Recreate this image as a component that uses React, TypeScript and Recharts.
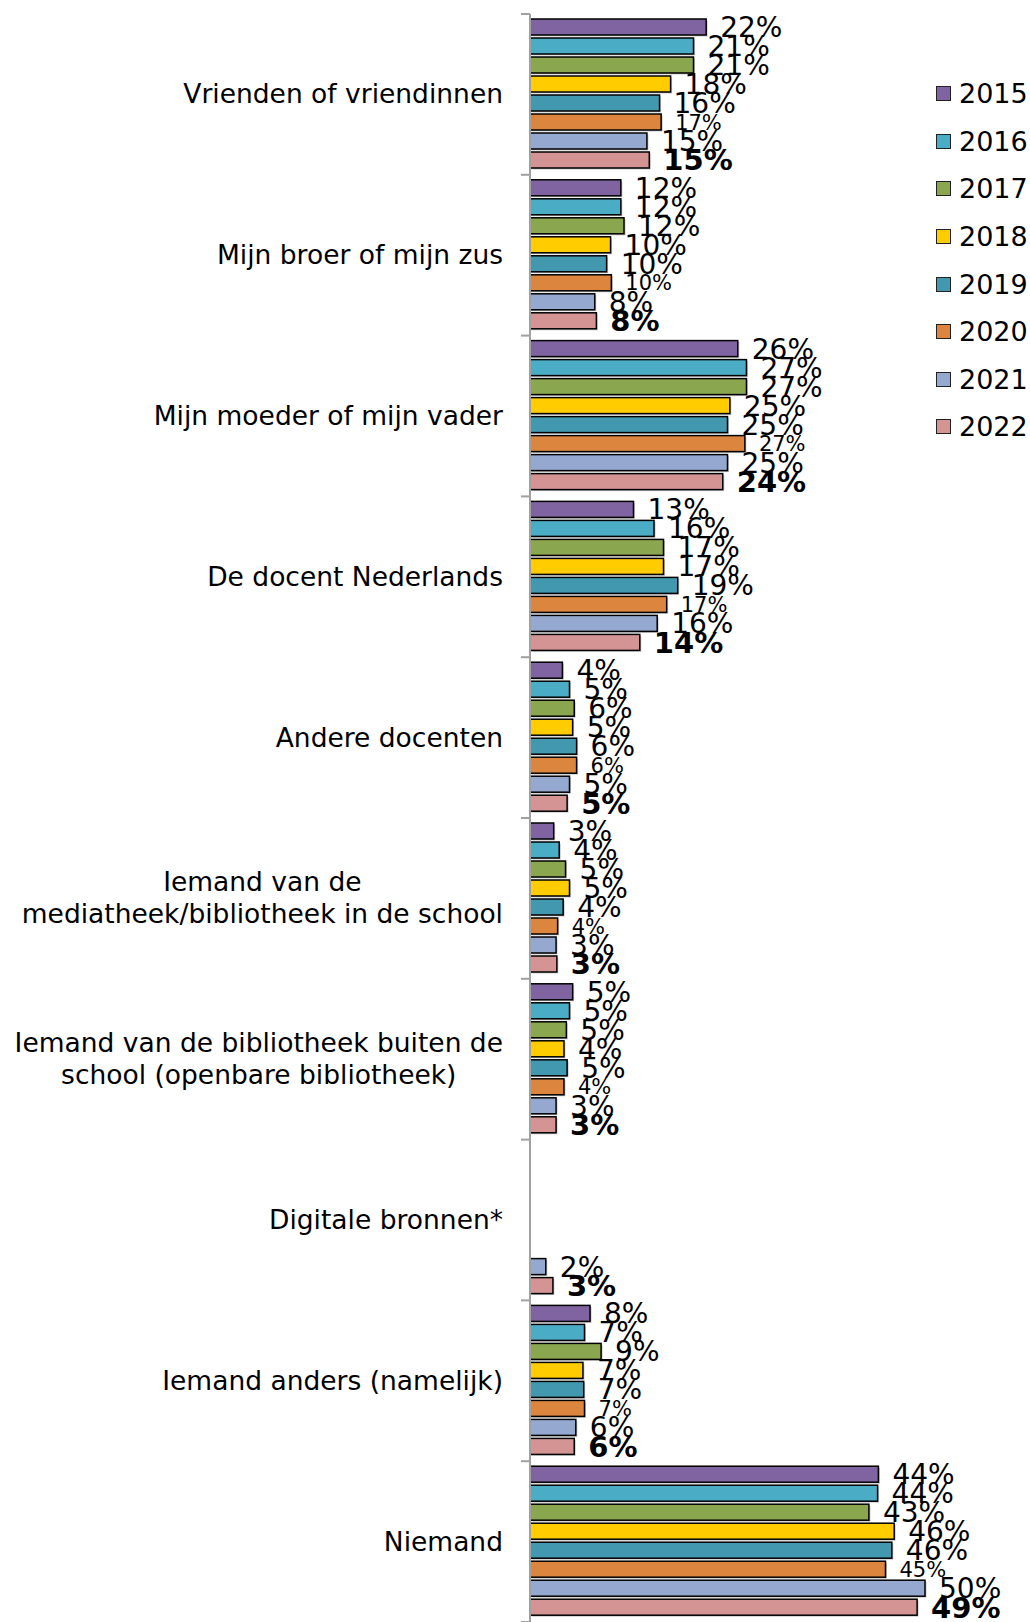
import { BarChart, Bar, XAxis, YAxis, LabelList } from 'recharts'

const categories = [
  'Vrienden of vriendinnen',
  'Mijn broer of mijn zus',
  'Mijn moeder of mijn vader',
  'De docent Nederlands',
  'Andere docenten',
  'Iemand van de\nmediatheek/bibliotheek in de school',
  'Iemand van de bibliotheek buiten de\nschool (openbare bibliotheek)',
  'Digitale bronnen*',
  'Iemand anders (namelijk)',
  'Niemand',
]

const years = ['2015', '2016', '2017', '2018', '2019', '2020', '2021', '2022']
const colors = ['#8064A2', '#4BACC6', '#8AA64E', '#FFCC00', '#4198AF', '#DC853E', '#95A9D0', '#D49494']

// percentages per year, one value per category (null = not asked that year)
const v2015 = [22.3, 11.5, 26.3, 13.1, 4.1, 3.0, 5.4, null, 7.6, 44.1]
const v2016 = [20.7, 11.5, 27.4, 15.7, 5.0, 3.7, 5.0, null, 6.9, 44.0]
const v2017 = [20.7, 11.9, 27.4, 16.9, 5.6, 4.5, 4.6, null, 9.0, 42.9]
const v2018 = [17.8, 10.2, 25.3, 16.9, 5.4, 5.0, 4.3, null, 6.7, 46.1]
const v2019 = [16.4, 9.7, 25.0, 18.7, 5.9, 4.2, 4.7, null, 6.8, 45.8]
const v2020 = [16.6, 10.3, 27.2, 17.3, 5.9, 3.5, 4.3, null, 6.9, 45.0]
const v2021 = [14.8, 8.2, 25.0, 16.1, 5.0, 3.3, 3.3, 2.0, 5.8, 50.0]
const v2022 = [15.1, 8.4, 24.4, 13.9, 4.7, 3.4, 3.3, 2.9, 5.6, 49.0]

const seriesValues = [v2015, v2016, v2017, v2018, v2019, v2020, v2021, v2022]

const data = categories.map((name, i) => {
  const row: Record<string, string | number | null> = { name }
  years.forEach((y, s) => {
    row['y' + y] = seriesValues[s][i]
  })
  return row
})

const FONT = '"DejaVu Sans", Verdana, sans-serif'
const CHART_W = 1030
const CHART_H = 1622
const MARGIN_TOP = 14
const AXIS_W = 530
const PLOT_H = CHART_H - MARGIN_TOP
const BAND = PLOT_H / categories.length
const CAT_SIZE = 26.5

let ctx: CanvasRenderingContext2D | null = null
function textWidth(s: string) {
  if (!ctx) ctx = document.createElement('canvas').getContext('2d')
  if (!ctx) return s.length * 15
  ctx.font = `${CAT_SIZE}px ${FONT}`
  return ctx.measureText(s).width
}

function CategoryTick(props: any) {
  const { x, y, payload, index } = props
  const lines = String(payload.value).split('\n')
  const lineH = 32
  const maxW = Math.max(...lines.map(textWidth))
  const multi = lines.length > 1
  const tx = multi ? x - 27 - maxW / 2 : x - 27
  const startY = y - ((lines.length - 1) * lineH) / 2
  return (
    <g>
      <line x1={x - 9} x2={x} y1={y - BAND / 2} y2={y - BAND / 2} stroke="#A0A0A0" strokeWidth={2} />
      {index === categories.length - 1 && (
        <line x1={x - 9} x2={x} y1={y + BAND / 2} y2={y + BAND / 2} stroke="#A0A0A0" strokeWidth={2} />
      )}
      <text
        x={tx}
        y={startY}
        textAnchor={multi ? 'middle' : 'end'}
        fontFamily={FONT}
        fontSize={CAT_SIZE}
        fill="#000"
      >
        {lines.map((l, i) => (
          <tspan key={i} x={tx} dy={i === 0 ? 9 : lineH}>
            {l}
          </tspan>
        ))}
      </text>
    </g>
  )
}

function makeLabel(year: string) {
  return function ValueLabel(props: any) {
    const vb = props.viewBox ?? props
    const x = vb.x ?? props.x
    const y = vb.y ?? props.y
    const width = vb.width ?? props.width
    const height = vb.height ?? props.height
    const value = props.value
    if (value === null || value === undefined) return null
    const bold = year === '2022'
    const size = bold ? 29 : year === '2020' ? 21 : 28
    return (
      <text
        x={x + width + 14}
        y={y + height / 2 + size * 0.36}
        fontFamily={FONT}
        fontSize={size}
        fontWeight={bold ? 'bold' : 'normal'}
        fill="#000"
      >
        {Math.round(value)}%
      </text>
    )
  }
}

function BarShape(props: any) {
  const { x, y, width, height, fill, value } = props
  if (value === null || value === undefined || width <= 0) return null
  return (
    <g>
      <rect x={x + 1.5} y={y + 1.5} width={width} height={height} fill="#C8C8C8" />
      <rect x={x} y={y} width={width} height={height} fill={fill} stroke="#000" strokeWidth={1.5} />
    </g>
  )
}

export default function App() {
  return (
    <div style={{ position: 'fixed', top: 0, left: 0, width: CHART_W, height: CHART_H, background: '#fff' }}>
      <BarChart
        width={CHART_W}
        height={CHART_H}
        data={data}
        layout="vertical"
        margin={{ top: MARGIN_TOP, right: 26, bottom: 0, left: 0 }}
        barCategoryGap={5}
        barGap={3}
      >
        <XAxis type="number" domain={[0, 60]} hide />
        <YAxis
          type="category"
          dataKey="name"
          width={AXIS_W}
          axisLine={{ stroke: '#A0A0A0', strokeWidth: 2 }}
          tickLine={false}
          tickSize={0}
          tickMargin={0}
          interval={0}
          tick={<CategoryTick />}
        />
        {years.map((y, i) => (
          <Bar
            key={y}
            dataKey={'y' + y}
            name={y}
            fill={colors[i]}
            shape={<BarShape />}
            isAnimationActive={false}
          >
            <LabelList dataKey={'y' + y} content={makeLabel(y)} />
          </Bar>
        ))}
      </BarChart>
      <div style={{ position: 'absolute', left: 936, top: 70, fontFamily: FONT, fontSize: 27, color: '#000' }}>
        {years.map((y, i) => (
          <div key={y} style={{ display: 'flex', alignItems: 'center', height: 47.6 }}>
            <span
              style={{
                display: 'inline-block',
                width: 13,
                height: 13,
                background: colors[i],
                border: '1.5px solid #222',
                marginRight: 8,
              }}
            />
            <span>{y}</span>
          </div>
        ))}
      </div>
    </div>
  )
}
